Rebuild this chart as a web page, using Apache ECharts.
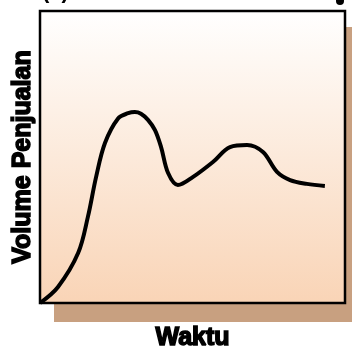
<!DOCTYPE html>
<html><head><meta charset="utf-8">
<script src="https://cdn.jsdelivr.net/npm/echarts@6/dist/echarts.min.js"></script>
<style>html,body{margin:0;padding:0;background:#fff}#c{width:352px;height:354px}</style>
</head><body><div id="c"></div>
<script>
// Data (time 0-100, sales volume 0-100)
var waktu  = [0, 5.9, 12.5, 15.7, 18.4, 21.3, 25.6, 28.9, 31.1, 33.1, 35.4, 37.7, 39.7, 42.0, 45.2, 50.2, 56.7, 62.3, 67.9, 73.1, 77.7, 82.0, 87.5, 93.4];
var volume = [0, 5.5, 17.1, 29.5, 43.2, 54.8, 63.2, 65.0, 65.4, 64.8, 62.7, 59.2, 53.4, 44.5, 40.4, 43.2, 48.3, 53.4, 54.1, 51.7, 44.9, 42.1, 40.8, 40.1];
var xTitle = 'Waktu';
var yTitle = 'Volume Penjualan';

var pts = waktu.map(function(x, i){ return [x, volume[i]]; });
var chart = echarts.init(document.getElementById('c'));
var font = 'Liberation Sans';
chart.setOption({
  animation: false,
  backgroundColor: '#ffffff',
  grid: {left: 40, top: 11, right: 7, bottom: 51, show: true, borderColor: '#000', borderWidth: 2.5,
    outerBoundsMode: 'none', containLabel: false,
    backgroundColor: new echarts.graphic.LinearGradient(0,0,0,1,[{offset:0,color:'#ffffff'},{offset:1,color:'#f9d4b6'}]),
    z: 1},
  graphic: [
    {type:'rect', shape:{x:54, y:27, width:320, height:295}, style:{fill:'#c8a080'}, z:-10, silent:true},
    {type:'text', x:42, y:3, style:{x:0, y:0, text:'(a)', font:'bold 22px "Liberation Sans"', fill:'#000', verticalAlign:'bottom'}},
    {type:'circle', shape:{cx:340, cy:1, r:4}, style:{fill:'#000'}}
  ],
  xAxis: {type:'value', min:0, max:100, axisLine:{show:false}, axisTick:{show:false}, axisLabel:{show:false}, splitLine:{show:false},
    name: xTitle, nameLocation:'middle', nameGap: 23,
    nameTextStyle:{fontFamily:font, fontSize:25, fontWeight:'bold', color:'#000', textBorderColor:'#000', textBorderWidth:1.5, verticalAlign:'top'}},
  yAxis: {type:'value', min:0, max:100, axisLine:{show:false}, axisTick:{show:false}, axisLabel:{show:false}, splitLine:{show:false},
    name: yTitle, nameLocation:'middle', nameGap: 17,
    nameTextStyle:{fontFamily:font, fontSize:25, fontWeight:'bold', color:'#000', textBorderColor:'#000', textBorderWidth:1.5, verticalAlign:'middle'}},
  series: [{type:'line', data: pts, smooth: 0.35, showSymbol:false, lineStyle:{color:'#000', width:4}, z:5}]
});
</script></body></html>
